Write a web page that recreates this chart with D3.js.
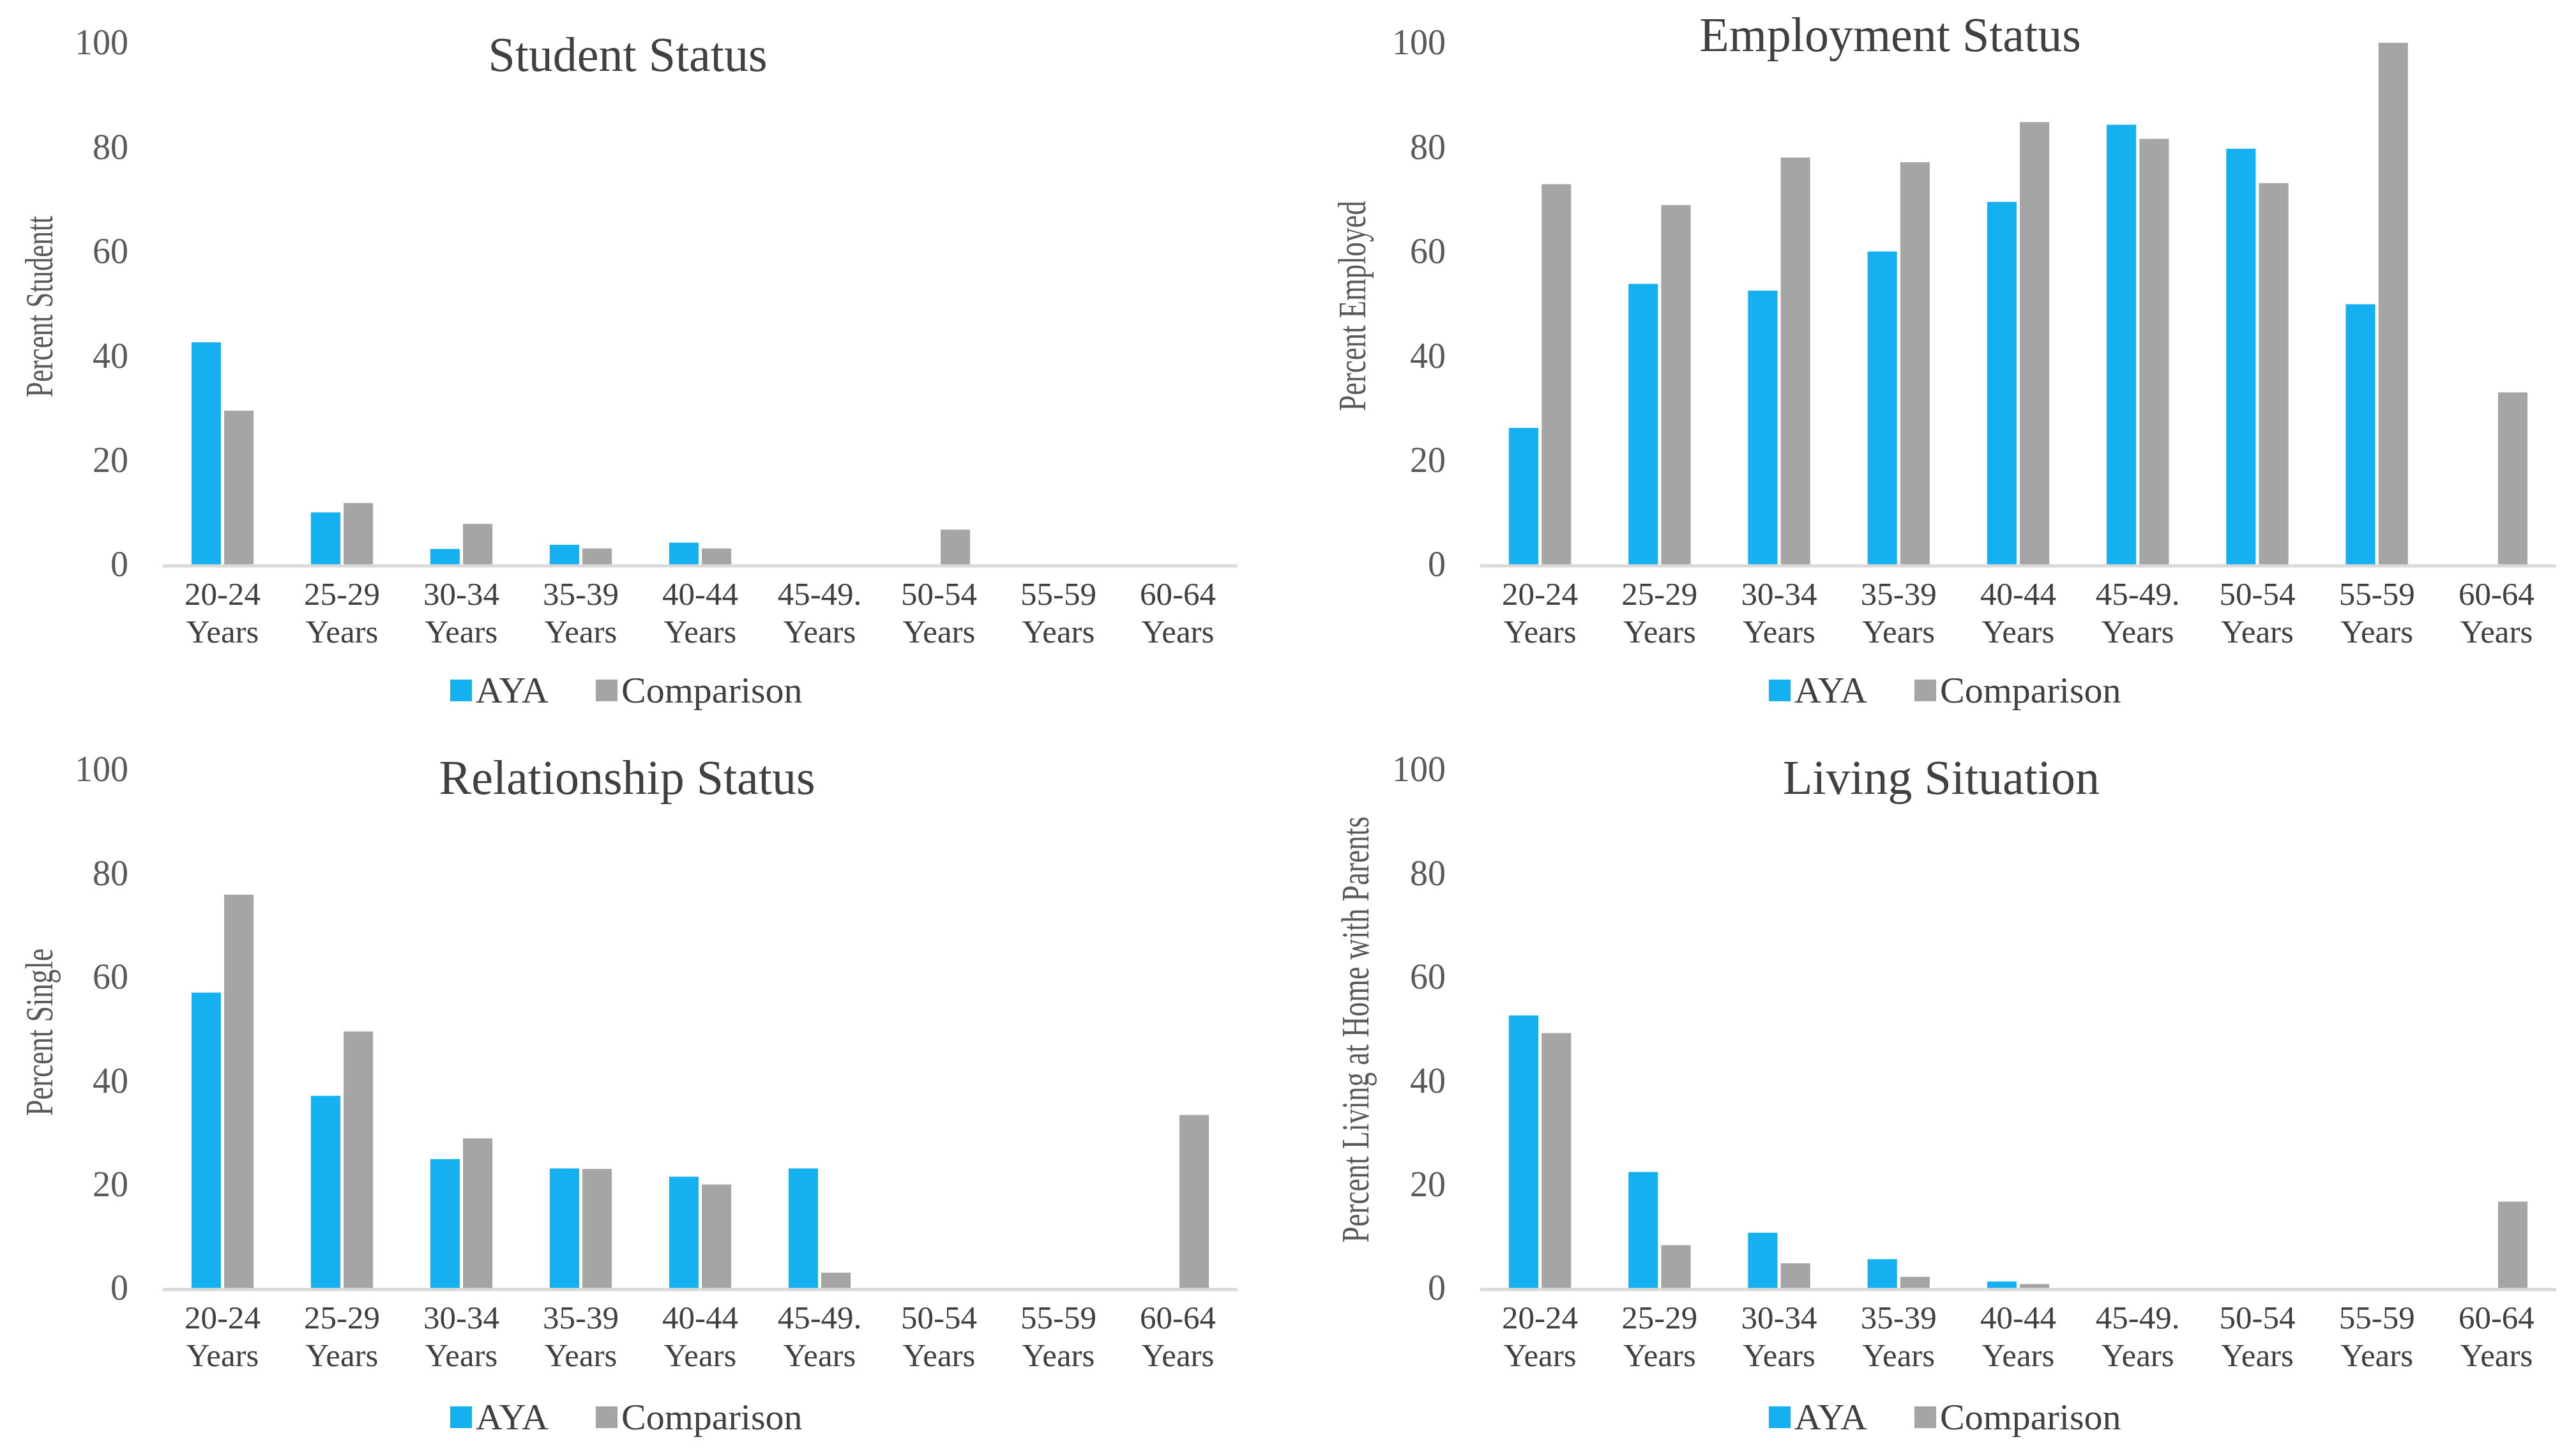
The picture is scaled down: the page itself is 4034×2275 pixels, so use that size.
<!DOCTYPE html>
<meta charset="utf-8">
<style>
body{ margin:0; background:#fff; }
text{ font-family:"Liberation Serif","Times New Roman",serif; }
.tick text{ font-size:56px; fill:#595959; }
.title{ font-size:76px; fill:#404040; text-anchor:middle; }
.xlab{ font-size:51px; fill:#404040; text-anchor:middle; }
.ytitle{ font-size:62px; fill:#595959; text-anchor:middle; }
.legend text{ font-size:58px; fill:#404040; }
</style>
<body>
<script src="https://d3js.org/d3.v7.min.js"></script>
<script>

var ageGroups = ["20-24 Years","25-29 Years","30-34 Years","35-39 Years","40-44 Years",
                 "45-49. Years","50-54 Years","55-59 Years","60-64 Years"];
var series = ["AYA","Comparison"];
var yTicks = [0,20,40,60,80,100];

var studentAYA        = [42.6, 10.0, 3.0, 3.8, 4.2, 0, 0, 0, 0];
var studentComparison = [29.5, 11.8, 7.8, 3.1, 3.1, 0, 6.7, 0, 0];

var employedAYA        = [26.2, 53.8, 52.5, 60.0, 69.5, 84.3, 79.7, 49.9, 0];
var employedComparison = [72.9, 68.9, 78.0, 77.1, 84.8, 81.6, 73.1, 100, 33.0];

var singleAYA        = [57.0, 37.1, 24.9, 23.1, 21.5, 23.1, 0, 0, 0];
var singleComparison = [75.9, 49.5, 28.9, 23.0, 20.0, 3.0, 0, 0, 33.4];

var parentsAYA        = [52.6, 22.4, 10.7, 5.6, 1.3, 0, 0, 0, 0];
var parentsComparison = [49.2, 8.3, 4.8, 2.2, 0.8, 0, 0, 0, 16.7];

var color = {AYA:"#15B0F0", Comparison:"#A5A5A5"};

var svg = d3.select("body").append("svg").attr("width",4034).attr("height",2275);

// layout of the four panels
var panels = [
  {title:"Student Status", ytitle:"Percent Studentt", aya:studentAYA, comp:studentComparison,
   x0:255, x1:1938, y0:884, y1:67, titleX:983, titleY:111, ytX:82, ytY:480, ytLen:284, legX:705, legY:1081},
  {title:"Employment Status", ytitle:"Percent Employed", aya:employedAYA, comp:employedComparison,
   x0:2318, x1:4003, y0:884, y1:67, titleX:2960, titleY:80, ytX:2138, ytY:479, ytLen:329, legX:2770, legY:1081},
  {title:"Relationship Status", ytitle:"Percent Single", aya:singleAYA, comp:singleComparison,
   x0:255, x1:1938, y0:2017, y1:1205, titleX:982, titleY:1243, ytX:82, ytY:1616, ytLen:262, legX:705, legY:2219},
  {title:"Living Situation", ytitle:"Percent Living at Home with Parents", aya:parentsAYA, comp:parentsComparison,
   x0:2318, x1:4003, y0:2017, y1:1205, titleX:3040, titleY:1243, ytX:2143, ytY:1612, ytLen:667, legX:2770, legY:2219}
];

panels.forEach(function(p){
  var g = svg.append("g");

  var x = d3.scaleBand().domain(ageGroups).range([p.x0,p.x1]).paddingInner(0.48).paddingOuter(0.24);
  var xs = d3.scaleBand().domain(series).range([0,x.bandwidth()]).paddingInner(0.1);
  var y = d3.scaleLinear().domain([0,100]).range([p.y0,p.y1]);

  // y axis labels
  g.append("g").attr("transform","translate("+(p.x0-4)+",0)")
    .call(d3.axisLeft(y).tickValues(yTicks).tickSize(0).tickPadding(50))
    .call(a=>a.select(".domain").remove());

  var rows = ageGroups.map((k,i)=>({key:k, AYA:p.aya[i], Comparison:p.comp[i]}));

  g.selectAll(".grp").data(rows).join("g")
    .attr("transform",d=>"translate("+x(d.key)+",0)")
    .selectAll("rect").data(d=>series.map(s=>({s:s, v:d[s]}))).join("rect")
      .attr("x",d=>xs(d.s))
      .attr("width",xs.bandwidth())
      .attr("y",d=>y(d.v))
      .attr("height",d=>y(0)-y(d.v))
      .attr("fill",d=>color[d.s]);

  // baseline
  g.append("line").attr("x1",p.x0).attr("x2",p.x1).attr("y1",y(0)+2).attr("y2",y(0)+2)
    .attr("stroke","#D9D9D9").attr("stroke-width",5);

  // x labels on two lines
  ageGroups.forEach(function(k){
    var parts = k.split(" ");
    var cx = x(k)+x.bandwidth()/2;
    var t = g.append("text").attr("class","xlab").attr("x",cx).attr("y",y(0)+63);
    t.append("tspan").attr("x",cx).text(parts[0]);
    t.append("tspan").attr("x",cx).attr("dy",59).text(parts[1]);
  });

  g.append("text").attr("class","title").attr("x",p.titleX).attr("y",p.titleY).text(p.title);

  g.append("text").attr("class","ytitle")
    .attr("transform","translate("+p.ytX+","+p.ytY+") rotate(-90)")
    .attr("textLength",p.ytLen).attr("lengthAdjust","spacingAndGlyphs")
    .text(p.ytitle);

  var leg = g.append("g").attr("class","legend").attr("transform","translate("+p.legX+","+p.legY+")");
  var offs = [0,228];
  series.forEach(function(s,i){
    leg.append("rect").attr("x",offs[i]).attr("y",-17).attr("width",34).attr("height",34).attr("fill",color[s]);
    leg.append("text").attr("x",offs[i]+40).attr("y",19).text(s);
  });
});
</script>
</body>
</html>
